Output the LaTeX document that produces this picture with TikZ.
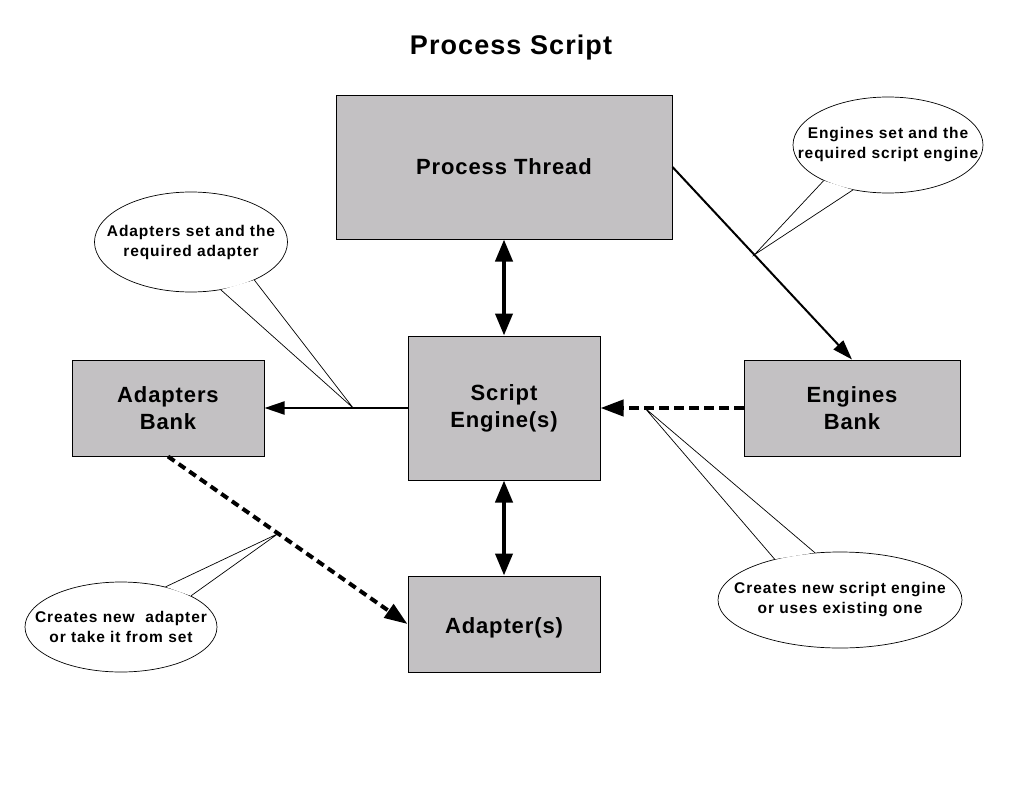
\documentclass[tikz,border=0pt]{standalone}
\usepackage{fontspec}
\setmainfont{Liberation Sans}
\newfontfamily\titlefnt[LetterSpace=4]{Liberation Sans}
\newfontfamily\boxfnt[LetterSpace=4]{Liberation Sans}
\newfontfamily\calfnt[LetterSpace=6]{Liberation Sans}
\usetikzlibrary{arrows.meta,shapes.geometric}
\definecolor{boxgray}{RGB}{195,193,195}
\begin{document}
\begin{tikzpicture}[x=1pt,y=-1pt,
  box/.style={draw=black, fill=boxgray, line width=1pt, inner sep=0pt, align=center,
    font=\boxfnt\bfseries\fontsize{22}{27}\selectfont},
  callout/.style={ellipse, draw=black, fill=white, line width=0.7pt, inner sep=0pt},
  calltext/.style={align=center, inner sep=0pt, font=\calfnt\bfseries\fontsize{15.5}{20}\selectfont},
  tail/.style={draw=black, line width=0.7pt, line join=miter},
  conn/.style={draw=black, line width=2pt},
  bigconn/.style={draw=black, line width=4pt},
  dconn/.style={draw=black, line width=4pt, dash pattern=on 10pt off 5pt},
  smalltip/.style={-{Triangle[length=20pt,width=13pt]}},
  bigtip/.style={{Triangle[length=22pt,width=17pt]}-{Triangle[length=22pt,width=17pt]}},
  dtip/.style={-{Triangle[length=23pt,width=16pt]}}
]
\useasboundingbox (0,0) rectangle (1024,784);
\fill[white] (0,0) rectangle (1024,784);

\node[font=\titlefnt\bfseries\fontsize{27}{32}\selectfont] (title) at (511,48) {Process Script};

\node[box, minimum width=336pt, minimum height=144pt] (pt) at (504,167) {Process Thread};
\node[box, minimum width=192pt, minimum height=144pt] (se) at (504,408) {Script\\Engine(s)};
\node[box, minimum width=192pt, minimum height=96pt] (ab) at (168,408) {Adapters\\Bank};
\node[box, minimum width=216pt, minimum height=96pt] (eb) at (852,408) {Engines\\Bank};
\node[box, minimum width=192pt, minimum height=96pt, text depth=0pt, text height=18pt] (ad) at (504,624) {Adapter(s)};

% tail tips on connectors
\path (se.west) -- (ab.east) coordinate[pos=0.38] (t1);
\path (pt.east) -- (eb.north) coordinate[pos=0.456] (t2);
\path (eb.west) -- (se.east) coordinate[pos=0.69] (t3);
\path (ab.south) -- (ad.west) coordinate[pos=0.46] (t4);

% callouts
\node[callout, minimum width=193pt, minimum height=100pt] (c1) at (191,242) {};
\fill[white] (c1.302) -- (t1) -- (c1.329) -- cycle;
\draw[tail] (c1.302) -- (t1) -- (c1.329);
\node[calltext] (c1t) at (c1) {Adapters set and the\\required adapter};

\node[callout, minimum width=190pt, minimum height=96pt] (c2) at (888,145) {};
\fill[white] (c2.209) -- (t2) -- (c2.232) -- cycle;
\draw[tail] (c2.209) -- (t2) -- (c2.232);
\node[calltext] (c2t) at (c2) {Engines set and the\\required script engine};

\node[callout, minimum width=244pt, minimum height=96pt] (c3) at (840,600) {};
\fill[white] (c3.148) -- (t3) -- (c3.118) -- cycle;
\draw[tail] (c3.148) -- (t3) -- (c3.118);
\node[calltext] (c3t) at (c3) {Creates new script engine\\or uses existing one};

\node[callout, minimum width=192pt, minimum height=90pt] (c4) at (121,627) {};
\fill[white] (c4.42) -- (t4) -- (c4.24) -- cycle;
\draw[tail] (c4.42) -- (t4) -- (c4.24);
\node[calltext] (c4t) at (c4) {Creates new\ \ adapter\\or take it from\ set};

% connectors
\draw[bigconn, bigtip] (pt.south) -- (se.north);
\draw[bigconn, bigtip] (se.south) -- (ad.north);
\draw[conn, smalltip] (se.west) -- (ab.east);
\draw[conn, smalltip] (pt.east) -- (eb.north);
\draw[dconn, dtip] (eb.west) -- (se.east);
\draw[dconn, dash pattern=on 8pt off 5pt, dtip] (ab.south) -- (ad.west);
\end{tikzpicture}
\end{document}
